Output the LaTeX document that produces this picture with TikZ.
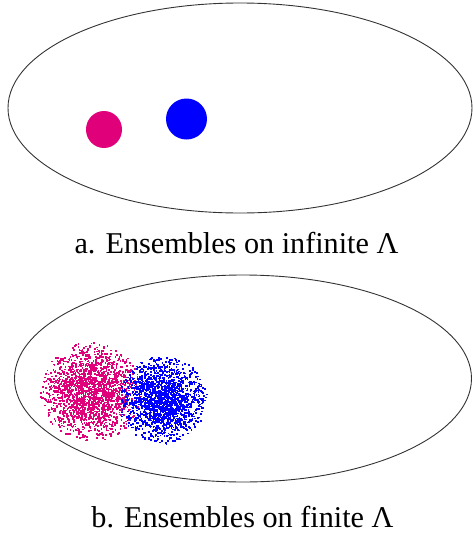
\documentclass[tikz,border=0pt]{standalone}
\usepackage{fontspec}
\setmainfont{Liberation Serif}
\newfontfamily\capfont{Liberation Serif}
\definecolor{magen}{RGB}{224,0,122}
\definecolor{blu}{RGB}{0,0,255}
\tikzset{
  region/.style={draw=black!80, line width=0.9pt},
  caption/.style={anchor=base, inner sep=0pt, font=\capfont\fontsize{30.2}{34}\selectfont}
}
\begin{document}
\begin{tikzpicture}[x=1pt,y=-1pt]
\useasboundingbox (0,0) rectangle (472,536);
% top
\draw[region] (240,108) ellipse [x radius=232, y radius=105];
\fill[magen] (104,129.5) circle [x radius=18, y radius=18.5];
\fill[blu] (186.5,119) circle [radius=20.5];
\node[caption] (capa) at (236.5,253) {a. Ensembles on infinite Λ};
% bottom
\draw[region] (243,378.5) ellipse [x radius=228.5, y radius=103.5];
\pgfmathsetseed{11}
\foreach \i in {1,...,1900}{
  \pgfmathsetmacro{\ang}{360*rnd}
  \pgfmathsetmacro{\rg}{0.5*sqrt(-2*ln(0.001+0.999*rnd))}
  \pgfmathsetmacro{\rr}{\rg>1.1 ? 1.1*sqrt(rnd) : \rg}
  \fill[magen] ({91+46*\rr*cos(\ang)-0.8},{392+45*\rr*sin(\ang)-0.8}) rectangle ++(1.7,1.7);
}
\foreach \i in {1,...,1700}{
  \pgfmathsetmacro{\ang}{360*rnd}
  \pgfmathsetmacro{\rg}{0.5*sqrt(-2*ln(0.001+0.999*rnd))}
  \pgfmathsetmacro{\rr}{\rg>1.1 ? 1.1*sqrt(rnd) : \rg}
  \fill[blu] ({163+40*\rr*cos(\ang)-0.8},{400+40*\rr*sin(\ang)-0.8}) rectangle ++(1.7,1.7);
}
\node[caption] (capb) at (242.5,527) {b. Ensembles on finite Λ};
\end{tikzpicture}
\end{document}
